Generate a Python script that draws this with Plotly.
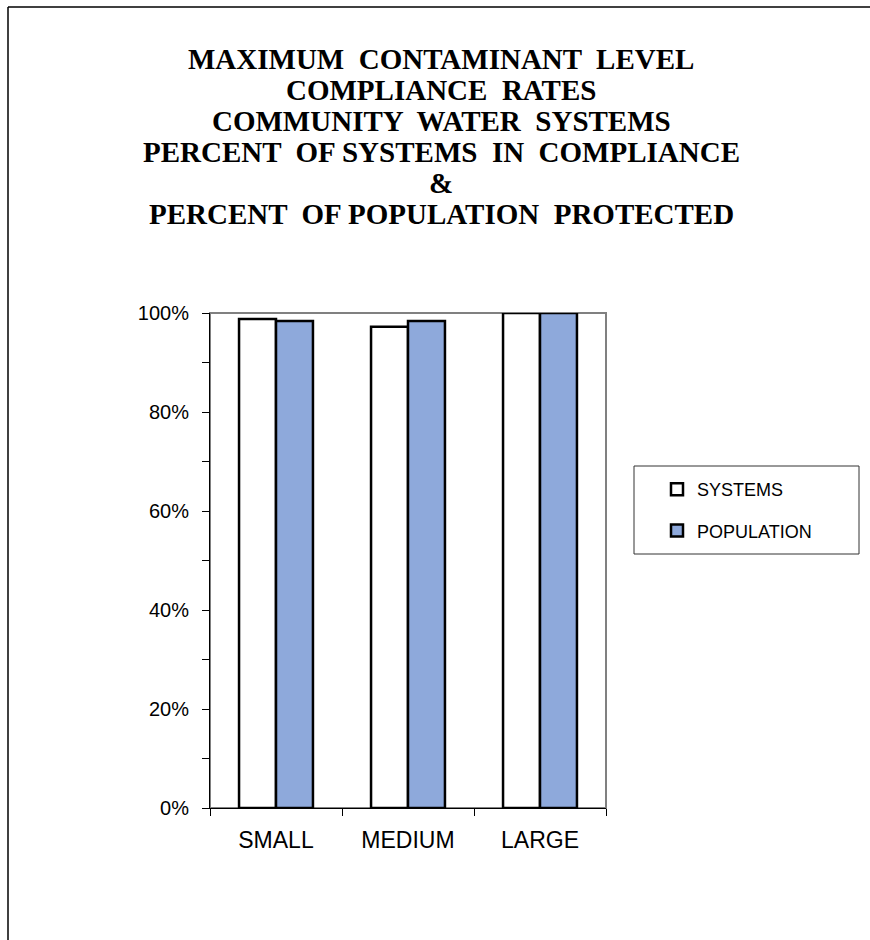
import plotly.graph_objects as go

categories = ["SMALL", "MEDIUM", "LARGE"]
systems = [0.988, 0.972, 1.0]
population = [0.984, 0.984, 1.0]
series_names = ["SYSTEMS", "POPULATION"]
title_lines = [
    "MAXIMUM  CONTAMINANT  LEVEL",
    "COMPLIANCE  RATES",
    "COMMUNITY  WATER  SYSTEMS",
    "PERCENT  OF SYSTEMS  IN  COMPLIANCE",
    "&",
    "PERCENT  OF POPULATION  PROTECTED",
]

W, H = 870, 940
L, R, T, B = 210, 264, 313, 132
PW, PH = W - L - R, H - T - B


def xp(px):
    return (px - L) / PW


def yp(py):
    return (H - B - py) / PH


fig = go.Figure()
fig.add_trace(go.Bar(x=categories, y=systems, name=series_names[0], legendgroup="a",
                     marker=dict(color="white", line=dict(color="black", width=2.5))))
fig.add_trace(go.Bar(x=categories, y=population, name=series_names[1], legendgroup="b",
                     marker=dict(color="#8EA9DB", line=dict(color="black", width=2.5))))

shapes = [
    dict(type="rect", xref="paper", yref="paper", x0=0, x1=1, y0=0, y1=1,
         line=dict(color="#808080", width=2), layer="below"),
    dict(type="rect", xref="paper", yref="paper", x0=xp(634), x1=xp(859), y0=yp(466), y1=yp(554),
         line=dict(color="#333333", width=1), fillcolor="white", layer="below"),
    dict(type="line", xref="paper", yref="paper", x0=xp(8), x1=xp(872), y0=yp(7), y1=yp(7),
         line=dict(color="black", width=1.5)),
    dict(type="line", xref="paper", yref="paper", x0=xp(8), x1=xp(8), y0=yp(7), y1=yp(945),
         line=dict(color="black", width=1.5)),
]

for i, line in enumerate(title_lines):
    fig.add_annotation(text=line, xref="paper", yref="paper",
                       x=xp(441), y=yp(59 + 31 * i), xanchor="center", yanchor="middle",
                       showarrow=False,
                       font=dict(family="Liberation Serif", size=29, color="black", weight="bold"))

fig.update_layout(
    width=W, height=H,
    margin=dict(l=L, r=R, t=T, b=B, pad=0),
    paper_bgcolor="white", plot_bgcolor="white",
    barmode="group", bargap=0.44, bargroupgap=0,
    shapes=shapes,
    font=dict(family="Liberation Sans", color="black"),
    legend=dict(x=xp(657), y=yp(471), xanchor="left", yanchor="top",
                bgcolor="rgba(0,0,0,0)", borderwidth=0, tracegroupgap=15,
                font=dict(size=18, family="Liberation Sans")),
    showlegend=True,
)
fig.update_xaxes(showline=True, linecolor="black", linewidth=1, ticks="outside",
                 tickson="boundaries", ticklen=7, tickcolor="black",
                 ticklabelstandoff=11,
                 tickfont=dict(size=23), showgrid=False, zeroline=False)
fig.update_yaxes(range=[0, 1], dtick=0.2, tickformat=".0%", showline=True, linecolor="black",
                 linewidth=1, ticks="outside", ticklen=7, tickcolor="black",
                 ticklabelstandoff=9,
                 minor=dict(dtick=0.1, ticks="outside", ticklen=7, tickcolor="black"),
                 tickfont=dict(size=20), showgrid=False, zeroline=False)

fig.write_html("out.html", config={"displayModeBar": False},
               post_script="document.body.style.margin='0px';")
